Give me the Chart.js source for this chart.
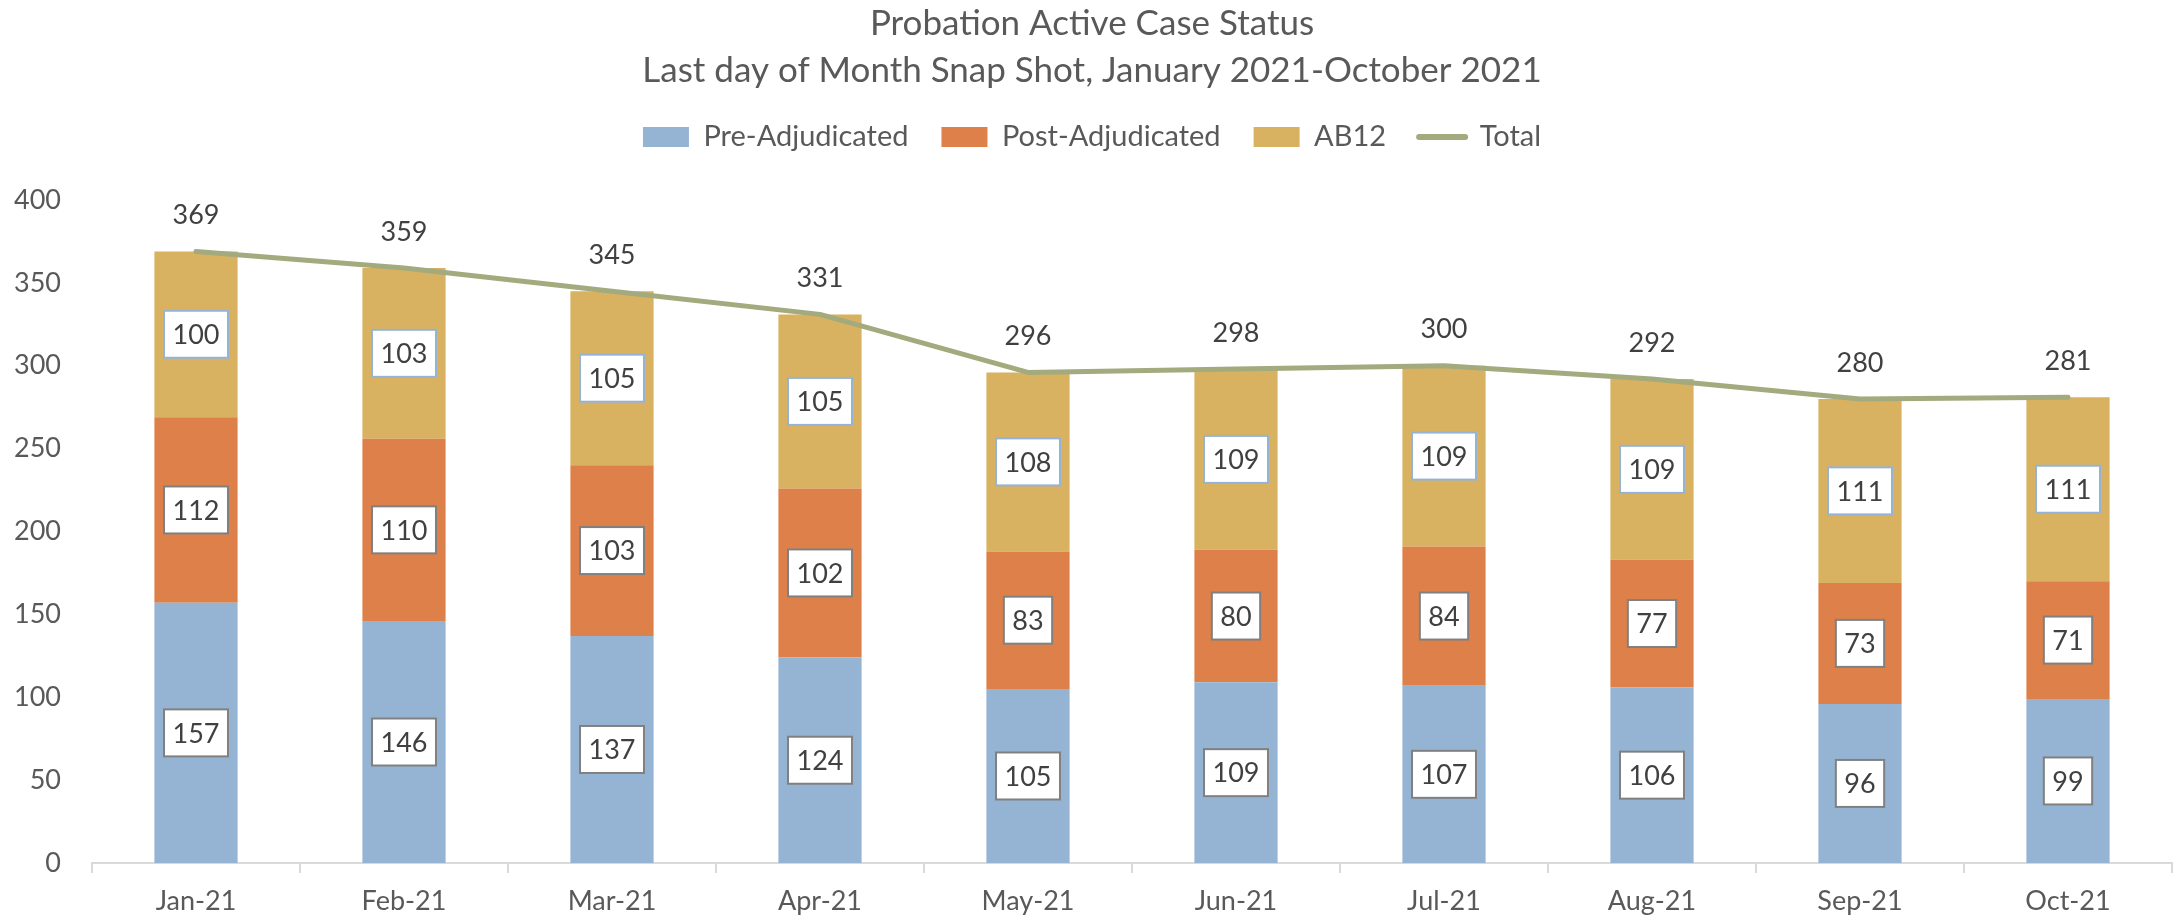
<!DOCTYPE html>
<html>
<head>
<meta charset="utf-8">
<title>Probation Active Case Status</title>
<script src="https://cdn.jsdelivr.net/npm/chart.js@4.4.0/dist/chart.umd.min.js"></script>
<style>
  html, body { margin: 0; padding: 0; background: #fff; }
  #wrap { width: 2176px; height: 919px; }
</style>
</head>
<body>
<div id="wrap"><canvas id="caseChart"></canvas></div>
<script>
// data
const months = ['Jan-21', 'Feb-21', 'Mar-21', 'Apr-21', 'May-21', 'Jun-21', 'Jul-21', 'Aug-21', 'Sep-21', 'Oct-21'];
const preAdjudicated = [157, 146, 137, 124, 105, 109, 107, 106, 96, 99];
const postAdjudicated = [112, 110, 103, 102, 83, 80, 84, 77, 73, 71];
const ab12 = [100, 103, 105, 105, 108, 109, 109, 109, 111, 111];
const totals = [369, 359, 345, 331, 296, 298, 300, 292, 280, 281];
const yMin = 0;
const yMax = 400;
const yStep = 50;

const fontFamily = "Lato, 'Open Sans', sans-serif";
const axisText = '#595959';
const labelText = '#404040';

// white boxed labels inside the bars, plain labels above the total line
const boxLabels = {
    id: 'boxLabels',
    afterDatasetsDraw(chart) {
        const ctx = chart.ctx;
        ctx.save();
        ctx.font = `27px ${fontFamily}`;
        ctx.textAlign = 'center';
        ctx.textBaseline = 'middle';
        chart.data.datasets.forEach((ds, i) => {
            const meta = chart.getDatasetMeta(i);
            if (meta.hidden) return;
            meta.data.forEach((el, j) => {
                const text = String(ds.data[j]);
                if (meta.type === 'bar') {
                    const cy = (el.y + el.base) / 2;
                    const w = ctx.measureText(text).width + 17;
                    const h = 47;
                    ctx.fillStyle = '#ffffff';
                    ctx.fillRect(el.x - w / 2, cy - h / 2, w, h);
                    ctx.lineWidth = 2;
                    ctx.strokeStyle = ds.labelBorder;
                    ctx.strokeRect(el.x - w / 2, cy - h / 2, w, h);
                    ctx.fillStyle = labelText;
                    ctx.fillText(text, el.x, cy + 1);
                } else {
                    ctx.fillStyle = labelText;
                    ctx.fillText(text, el.x, el.y - 36);
                }
            });
        });
        ctx.restore();
    }
};

new Chart(document.getElementById('caseChart'), {
    type: 'bar',
    data: {
        labels: months,
        datasets: [
            { label: 'Pre-Adjudicated', data: preAdjudicated, backgroundColor: '#95B4D3', labelBorder: '#808080', order: 1 },
            { label: 'Post-Adjudicated', data: postAdjudicated, backgroundColor: '#DD8049', labelBorder: '#808080', order: 1 },
            { label: 'AB12', data: ab12, backgroundColor: '#D8B260', labelBorder: '#95B3D7', order: 1 },
            {
                label: 'Total', type: 'line', data: totals,
                borderColor: '#A3AA7E', backgroundColor: '#A3AA7E',
                borderWidth: 5, pointRadius: 0, tension: 0,
                borderCapStyle: 'round', borderJoinStyle: 'round', order: 0
            }
        ]
    },
    options: {
        responsive: true,
        maintainAspectRatio: false,
        animation: false,
        devicePixelRatio: 1,
        layout: { padding: { left: 12, right: 4, top: 0, bottom: 0 } },
        datasets: { bar: { categoryPercentage: 1, barPercentage: 0.4 } },
        plugins: {
            title: {
                display: true,
                text: ['Probation Active Case Status', 'Last day of Month Snap Shot, January 2021-October 2021'],
                color: axisText,
                font: { family: fontFamily, size: 35, weight: 'normal', lineHeight: 1.343 },
                padding: { top: 0.5, bottom: -5 }
            },
            legend: {
                display: true,
                position: 'top',
                labels: {
                    usePointStyle: true,
                    pointStyleWidth: 46,
                    boxHeight: 20,
                    padding: 33,
                    color: axisText,
                    font: { family: fontFamily, size: 29 },
                    generateLabels(chart) {
                        return chart.data.datasets.map((ds, i) => {
                            const isLine = ds.type === 'line';
                            return {
                                text: ds.label,
                                datasetIndex: i,
                                fillStyle: isLine ? ds.borderColor : ds.backgroundColor,
                                strokeStyle: isLine ? ds.borderColor : ds.backgroundColor,
                                lineWidth: isLine ? 6 : 0,
                                lineCap: 'round',
                                pointStyle: isLine ? 'line' : 'rect',
                                fontColor: axisText,
                                hidden: false
                            };
                        });
                    }
                }
            },
            // empty spacer between legend and plot
            subtitle: {
                display: true,
                text: '',
                weight: 500,
                font: { size: 1, lineHeight: 1 },
                padding: { top: 37.5, bottom: 0 }
            },
            tooltip: { enabled: false }
        },
        scales: {
            x: {
                stacked: true,
                grid: { display: true, offset: true, drawOnChartArea: false, drawTicks: true, tickLength: 10, color: '#D9D9D9', lineWidth: 2 },
                border: { display: true, color: '#D9D9D9', width: 2 },
                ticks: { color: axisText, font: { family: fontFamily, size: 27 }, padding: 12, maxRotation: 0, autoSkip: false },
                afterFit(scale) { scale.height = 56; }
            },
            y: {
                stacked: true,
                min: yMin,
                max: yMax,
                grid: { display: false, drawTicks: false },
                border: { display: false },
                ticks: { stepSize: yStep, color: axisText, font: { family: fontFamily, size: 27 }, padding: 31 },
                afterFit(scale) { scale.width = 80; }
            }
        }
    },
    plugins: [boxLabels]
});
</script>
</body>
</html>
